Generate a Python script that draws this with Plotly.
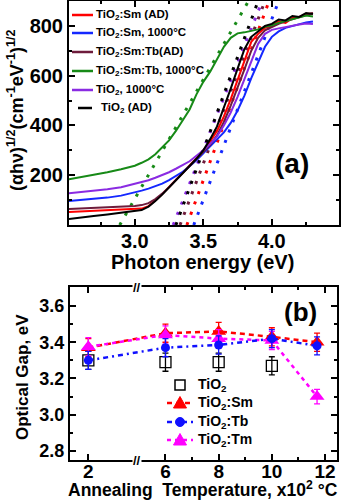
import plotly.graph_objects as go

W, H = 354, 500
FONT = "Liberation Sans, Arial, sans-serif"


def px(x):
    return x / W


def py(y):
    return 1 - y / H


# ---------------- Panel (a) data ----------------
energy = [2.52, 2.6, 2.7, 2.8, 2.9, 3.0, 3.05, 3.1, 3.15, 3.2, 3.25, 3.3, 3.35, 3.4, 3.45, 3.5,
          3.55, 3.6, 3.65, 3.7, 3.75, 3.8, 3.85, 3.9, 3.95, 4.0, 4.05, 4.1, 4.15, 4.2, 4.25, 4.3]

sm_ad = [52, 54, 56, 58, 60, 63, 66, 76, 98, 124, 152, 180, 208, 238, 268, 300,
         336, 378, 436, 506, 584, 660, 736, 768, 792, 800, 818, 812, 832, 836, 848, 850]
sm_1000 = [96, 100, 104, 110, 118, 130, 138, 146, 156, 166, 180, 196, 214, 236, 260, 288,
           318, 344, 372, 410, 460, 520, 590, 656, 716, 756, 778, 792, 800, 808, 814, 818]
smtb_ad = [64, 66, 68, 70, 72, 76, 80, 88, 104, 126, 152, 180, 208, 236, 264, 292,
           322, 360, 414, 480, 550, 625, 700, 752, 782, 796, 808, 818, 826, 836, 844, 852]
smtb_1000 = [184, 192, 200, 212, 224, 238, 250, 264, 284, 310, 340, 378, 420, 464, 525, 575,
             616, 668, 716, 752, 770, 774, 780, 786, 796, 802, 812, 820, 828, 836, 842, 838]
tio2_1000 = [128, 132, 138, 144, 152, 166, 172, 180, 190, 200, 212, 226, 240, 256, 278, 300,
             326, 356, 400, 452, 515, 584, 660, 728, 768, 784, 790, 796, 800, 806, 810, 808]
tio2_ad = [24, 30, 36, 42, 48, 54, 60, 74, 96, 122, 150, 178, 206, 236, 266, 300,
           345, 396, 468, 548, 628, 706, 756, 780, 800, 808, 826, 822, 840, 836, 852, 848]

series_a_names = ["TiO<sub>2</sub>:Sm (AD)", "TiO<sub>2</sub>:Sm, 1000°C", "TiO<sub>2</sub>:Sm:Tb(AD)",
                  "TiO<sub>2</sub>:Sm:Tb, 1000°C", "TiO<sub>2</sub>, 1000°C", "TiO<sub>2</sub> (AD)"]
series_a_vals = [sm_ad, sm_1000, smtb_ad, smtb_1000, tio2_1000, tio2_ad]
series_a_colors = ["#ff0000", "#1428ff", "#6e1c3c", "#178a17", "#8a2be2", "#000000"]

# Tauc linear fits: photon energy where the fit line is at 0 and at 900
fit_value_ends = [0, 900]
fit_e_ends = {
    "sm_ad": [3.38, 3.98],
    "sm_1000": [3.43, 4.05],
    "smtb_ad": [3.33, 3.95],
    "smtb_1000": [2.89, 3.83],
    "tio2_1000": [3.28, 3.93],
    "tio2_ad": [3.30, 3.90],
}
fit_order = ["smtb_1000", "tio2_1000", "tio2_ad", "smtb_ad", "sm_ad", "sm_1000"]
fit_colors = {"sm_ad": "#ff0000", "sm_1000": "#1428ff", "smtb_ad": "#6e1c3c",
              "smtb_1000": "#178a17", "tio2_1000": "#8a2be2", "tio2_ad": "#000000"}

# ---------------- Panel (b) data ----------------
temp = [2, 6, 8, 10, 11.7]          # x10^2 °C
tio2_gap = [3.30, 3.29, 3.29, 3.27]
tio2_err = [0.05, 0.05, 0.05, 0.05]
sm_gap = [3.37, 3.45, 3.46, 3.43, 3.40]
sm_err = [0.05, 0.05, 0.05, 0.05, 0.05]
tb_gap = [3.30, 3.37, 3.385, 3.42, 3.38]
tb_err = [0.05, 0.05, 0.05, 0.05, 0.05]
tm_gap = [3.375, 3.44, 3.42, 3.41, 3.10]
tm_err = [0.05, 0.05, 0.05, 0.05, 0.04]

x_tick_vals = [2, 6, 8, 10, 12]
x_tick_text = ["2", "6", "8", "10", "12"]


def brk(t):
    # broken axis: the 2 -> 6 gap is compressed
    return t if t >= 6 else 3.1 + (t - 2)


fig = go.Figure()

# fits (dotted) first
for key in fit_order:
    fig.add_trace(go.Scatter(x=fit_e_ends[key], y=fit_value_ends, mode="lines",
                             line=dict(color=fit_colors[key], width=3, dash="3px,8px"),
                             showlegend=False, xaxis="x", yaxis="y", hoverinfo="skip"))
# curves
for name, vals, col in zip(series_a_names, series_a_vals, series_a_colors):
    fig.add_trace(go.Scatter(x=energy, y=vals, mode="lines", name=name,
                             line=dict(color=col, width=2), showlegend=False,
                             xaxis="x", yaxis="y"))

# panel (b)
bx_all = [brk(t) for t in temp]
b_styles = {
    "tio2": dict(color="black", dash=None, symbol="square-open", size=11),
    "sm": dict(color="#ff0000", dash="5px,4px", symbol="triangle-up", size=13),
    "tb": dict(color="#1010ff", dash="5px,4px,2px,4px", symbol="circle", size=9),
    "tm": dict(color="#ff00ff", dash="4px,4px", symbol="triangle-up", size=13),
}
fig.add_trace(go.Scatter(x=bx_all[:len(tio2_gap)], y=tio2_gap, mode="markers", name="TiO<sub>2</sub>",
                         marker=dict(symbol="square-open", size=11, color="black", line=dict(width=1.3)),
                         error_y=dict(type="data", array=tio2_err, color="black", thickness=1.3, width=3),
                         xaxis="x2", yaxis="y2", showlegend=False))
for key, gap, err in (("sm", sm_gap, sm_err), ("tm", tm_gap, tm_err), ("tb", tb_gap, tb_err)):
    st = b_styles[key]
    fig.add_trace(go.Scatter(x=bx_all, y=gap, mode="lines+markers",
                             line=dict(color=st["color"], width=2.5, dash=st["dash"]),
                             marker=dict(symbol=st["symbol"], size=st["size"], color=st["color"]),
                             error_y=dict(type="data", array=err, color=st["color"], thickness=1.3, width=3),
                             xaxis="x2", yaxis="y2", showlegend=False))

axis_common = dict(showline=True, linecolor="black", linewidth=2, mirror="allticks",
                   ticks="inside", ticklen=6, tickwidth=1.5, tickcolor="black",
                   showgrid=False, zeroline=False, automargin=False)

fig.update_layout(
    width=W, height=H, margin=dict(l=0, r=0, t=0, b=0),
    paper_bgcolor="white", plot_bgcolor="white", showlegend=False,
    font=dict(family=FONT, size=14, color="black", weight="bold"),
    xaxis=dict(domain=[px(69), px(339)], range=[2.52, 4.49], anchor="y",
               tickvals=[3.0, 3.5, 4.0], ticktext=["3.0", "3.5", "4.0"],
               tickfont=dict(size=20, family=FONT, weight="bold"), ticklabelstandoff=-3,
               minor=dict(tickvals=[2.75, 3.25, 3.75, 4.25], ticklen=3, tickwidth=1.5, ticks="inside"),
               **axis_common),
    yaxis=dict(domain=[py(225), py(1)], range=[0, 900], anchor="x",
               tickvals=[200, 400, 600, 800],
               tickfont=dict(size=20, family=FONT, weight="bold"),
               minor=dict(tickvals=[100, 300, 500, 700], ticklen=3, tickwidth=1.5, ticks="inside"),
               **axis_common),
    xaxis2=dict(domain=[px(70), px(337)], range=[2.41, 12.45], anchor="y2",
                tickvals=[brk(v) for v in x_tick_vals], ticktext=x_tick_text,
                tickfont=dict(size=19, family=FONT, weight="bold"), ticklabelstandoff=-7,
                minor=dict(tickvals=[7, 9, 11], ticklen=3, tickwidth=1.5, ticks="inside"),
                **axis_common),
    yaxis2=dict(domain=[py(460), py(287)], range=[2.75, 3.705], anchor="x2",
                tickvals=[2.8, 3.0, 3.2, 3.4, 3.6], ticktext=["2.8", "3.0", "3.2", "3.4", "3.6"],
                tickfont=dict(size=18, family=FONT, weight="bold"),
                minor=dict(tickvals=[2.9, 3.1, 3.3, 3.5], ticklen=3, tickwidth=1.5, ticks="inside"),
                **axis_common),
)

annotations = []
shapes = []

# legend for panel (a)
leg_rows = [15, 33, 52, 71, 90, 108]
for i, (name, col) in enumerate(zip(series_a_names, series_a_colors)):
    yy = leg_rows[i]
    if i < 5:
        x0, x1, xt = 72, 93, 94
    else:
        x0, x1, xt = 78, 92, 99
    shapes.append(dict(type="line", xref="paper", yref="paper", x0=px(x0), x1=px(x1),
                       y0=py(yy), y1=py(yy), line=dict(color=col, width=2.5)))
    annotations.append(dict(text=name, xref="paper", yref="paper", x=px(xt), y=py(yy),
                            xanchor="left", yanchor="middle", showarrow=False,
                            font=dict(size=11.5, family=FONT, weight="bold")))

# legend for panel (b)
b_leg = [("tio2", "TiO<sub>2</sub>", 385), ("sm", "TiO<sub>2</sub>:Sm", 403),
         ("tb", "TiO<sub>2</sub>:Tb", 422), ("tm", "TiO<sub>2</sub>:Tm", 440)]
mx = 180
for key, label, yy in b_leg:
    st = b_styles[key]
    if st["dash"]:
        shapes.append(dict(type="line", xref="paper", yref="paper", x0=px(167), x1=px(193),
                           y0=py(yy), y1=py(yy), line=dict(color=st["color"], width=2.5, dash=st["dash"])))
    if st["symbol"] == "square-open":
        shapes.append(dict(type="rect", xref="paper", yref="paper", x0=px(mx - 5), x1=px(mx + 5),
                           y0=py(yy + 5), y1=py(yy - 5), fillcolor="white",
                           line=dict(color="black", width=1.5)))
    elif st["symbol"] == "circle":
        shapes.append(dict(type="circle", xref="paper", yref="paper", x0=px(mx - 4.5), x1=px(mx + 4.5),
                           y0=py(yy + 4.5), y1=py(yy - 4.5), fillcolor=st["color"],
                           line=dict(color=st["color"], width=1)))
    else:
        path = "M {:.5f},{:.5f} L {:.5f},{:.5f} L {:.5f},{:.5f} Z".format(
            px(mx - 6.5), py(yy + 5), px(mx + 6.5), py(yy + 5), px(mx), py(yy - 6.5))
        shapes.append(dict(type="path", xref="paper", yref="paper", path=path,
                           fillcolor=st["color"], line=dict(color=st["color"], width=1)))
    annotations.append(dict(text=label, xref="paper", yref="paper", x=px(196), y=py(yy),
                            xanchor="left", yanchor="middle", showarrow=False,
                            font=dict(size=14, family=FONT, weight="bold")))

# axis titles & panel labels
annotations += [
    dict(text="(αhν)<sup>1/2</sup>(cm<sup>-1</sup>eV<sup>-1</sup>)<sup>1/2</sup>",
         xref="paper", yref="paper", x=px(16), y=py(110), textangle=-90,
         xanchor="center", yanchor="middle", showarrow=False,
         font=dict(size=18, family=FONT, weight="bold")),
    dict(text="Photon energy (eV)", xref="paper", yref="paper", x=px(202), y=py(262),
         xanchor="center", yanchor="middle", showarrow=False,
         font=dict(size=20, family=FONT, weight="bold")),
    dict(text="(a)", xref="paper", yref="paper", x=px(292), y=py(163),
         xanchor="center", yanchor="middle", showarrow=False,
         font=dict(size=28, family=FONT, weight="bold")),
    dict(text="Optical Gap, eV", xref="paper", yref="paper", x=px(22), y=py(377), textangle=-90,
         xanchor="center", yanchor="middle", showarrow=False,
         font=dict(size=17, family=FONT, weight="bold")),
    dict(text="Annealing\u00a0 Temperature, x10<sup>2</sup> °C", xref="paper", yref="paper",
         x=px(203), y=py(489), xanchor="center", yanchor="middle", showarrow=False,
         font=dict(size=17.5, family=FONT, weight="bold")),
    dict(text="(b)", xref="paper", yref="paper", x=px(300), y=py(312),
         xanchor="center", yanchor="middle", showarrow=False,
         font=dict(size=26, family=FONT, weight="bold")),
]
# axis break marks
for yb in (287, 460):
    annotations.append(dict(text="//", xref="paper", yref="paper", x=px(137), y=py(yb),
                            xanchor="center", yanchor="middle", showarrow=False,
                            bgcolor="white", borderpad=0,
                            font=dict(size=13, family=FONT, weight="bold")))

fig.update_layout(annotations=annotations, shapes=shapes)
fig.write_html("out.html")
